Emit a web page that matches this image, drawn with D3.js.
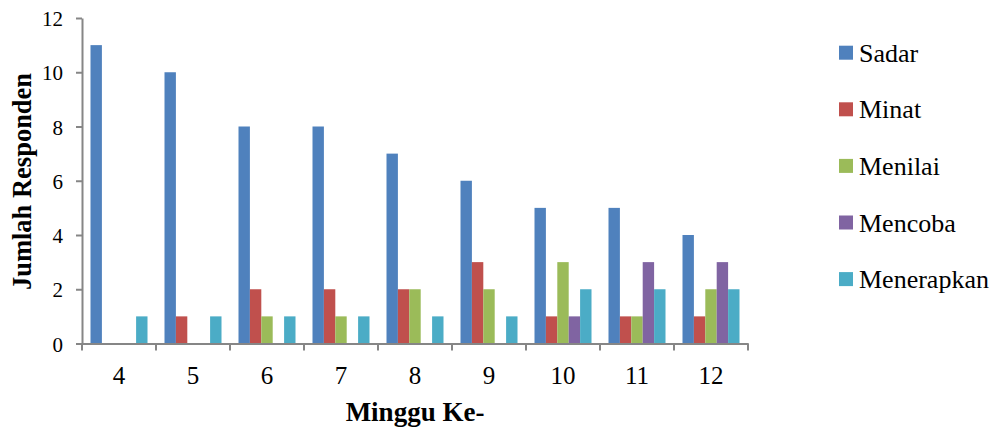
<!DOCTYPE html>
<html>
<head>
<meta charset="utf-8">
<script src="https://cdn.jsdelivr.net/npm/d3@7"></script>
<style>
html,body{margin:0;padding:0;background:#fff;}
svg{display:block;}
svg text{font-family:"Liberation Serif";}
</style>
</head>
<body>
<svg id="chart" width="995" height="428"></svg>
<script>
const categories = ["4","5","6","7","8","9","10","11","12"];
const seriesNames = ["Sadar","Minat","Menilai","Mencoba","Menerapkan"];
const sadar      = [11,10,8,8,7,6,5,5,4];
const minat      = [0,1,2,2,2,3,1,1,1];
const menilai    = [0,0,1,1,2,2,3,1,2];
const mencoba    = [0,0,0,0,0,0,1,3,3];
const menerapkan = [1,1,1,1,1,1,2,2,2];
const yTicks = [0,2,4,6,8,10,12];
const colors = ["#4F81BD","#C0504D","#9BBB59","#8064A2","#4BACC6"];

(function () {
const seriesValues = [sadar, minat, menilai, mencoba, menerapkan];
const svg = d3.select("#chart");
const font = "Liberation Serif";
const mLeft = 82, mRight = 748, mTop = 18, mBottom = 343.5;

const x = d3.scaleBand().domain(categories).range([mLeft, mRight]).paddingInner(0).paddingOuter(0);
const x1 = d3.scaleBand().domain(seriesNames).range([8.5, x.bandwidth() - 8.5]).padding(0);
const y = d3.scaleLinear().domain([0, 12]).range([mBottom, mTop]);

// bars
const data = [];
categories.forEach((c, i) => {
  seriesNames.forEach((s, j) => {
    data.push({c, s, v: seriesValues[j][i], color: colors[j]});
  });
});
svg.append("g").selectAll("rect").data(data.filter(d => d.v > 0)).join("rect")
  .attr("x", d => x(d.c) + x1(d.s))
  .attr("y", d => y(d.v))
  .attr("width", x1.bandwidth())
  .attr("height", d => y(0) - y(d.v))
  .attr("fill", d => d.color);

// y axis
const yAxis = svg.append("g").attr("transform", `translate(${mLeft},0)`)
  .call(d3.axisLeft(y).tickValues(yTicks).tickSize(6).tickSizeOuter(0).tickPadding(13));
yAxis.attr("font-family", null).attr("font-size", null);
yAxis.select(".domain").attr("stroke", "#868686").attr("stroke-width", 2);
yAxis.selectAll(".tick line").attr("stroke", "#868686").attr("stroke-width", 2);
yAxis.selectAll("text").attr("dy", null).attr("y", 7.5)
  .style("font-family", font).style("font-size", "21px").attr("fill", "#000");

// x axis
const xAxis = svg.append("g").attr("transform", `translate(0,${mBottom})`)
  .call(d3.axisBottom(x).tickSize(0).tickPadding(20));
xAxis.attr("font-family", null).attr("font-size", null);
xAxis.select(".domain").attr("stroke", "#868686").attr("stroke-width", 2);
xAxis.selectAll("text").attr("dy", null).attr("y", 40.5)
  .style("font-family", font).style("font-size", "25px").attr("fill", "#000");
// boundary ticks
const bounds = categories.map(c => x(c)).concat([x.range()[1]]);
xAxis.selectAll(".bt").data(bounds).join("line").attr("class", "bt")
  .attr("x1", d => d).attr("x2", d => d).attr("y1", 0).attr("y2", 7)
  .attr("stroke", "#868686").attr("stroke-width", 2);

// axis titles
svg.append("text").attr("x", (mLeft + mRight) / 2).attr("y", 421)
  .attr("text-anchor", "middle").style("font-family", font).style("font-weight", "bold")
  .style("font-size", "27px").text("Minggu Ke-");
svg.append("text").attr("transform", `translate(31,${(73 + 290) / 2}) rotate(-90)`)
  .attr("text-anchor", "middle").style("font-family", font).style("font-weight", "bold")
  .style("font-size", "26.5px").text("Jumlah Responden");

// legend
const lg = svg.append("g");
seriesNames.forEach((s, i) => {
  const cy = 52.7 + i * 56.6;
  lg.append("rect").attr("x", 839).attr("y", cy - 7).attr("width", 14).attr("height", 14).attr("fill", colors[i]);
  lg.append("text").attr("x", 859).attr("y", cy + 9).style("font-family", font)
    .style("font-size", "26px").attr("fill", "#000").text(s);
});
})();
</script>
</body>
</html>
